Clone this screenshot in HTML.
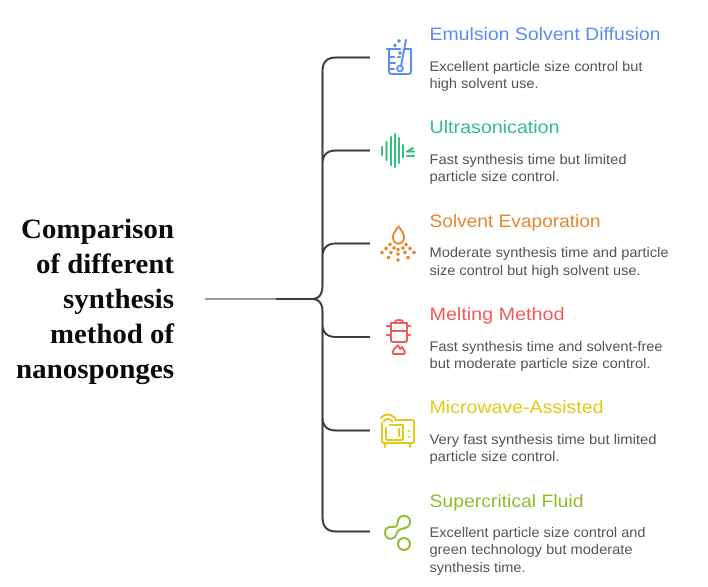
<!DOCTYPE html>
<html>
<head>
<meta charset="utf-8">
<style>
html,body{margin:0;padding:0;background:#fff;width:708px;height:587px;overflow:hidden}
svg{display:block;text-rendering:geometricPrecision}
.h{font-family:"Liberation Sans",sans-serif;font-size:18px}
.d{font-family:"Liberation Sans",sans-serif;font-size:14px;fill:#555}
.t{font-family:"Liberation Serif",serif;font-size:28px;font-weight:bold;fill:#0a0a0a;text-anchor:end}
.i{fill:none;stroke-width:2;stroke-linecap:round;stroke-linejoin:round}
</style>
</head>
<body>
<svg width="708" height="587" viewBox="0 0 708 587" xmlns="http://www.w3.org/2000/svg">
<rect width="708" height="587" fill="#fff"/>

<!-- title -->
<text class="t" x="174" y="238" textLength="153" lengthAdjust="spacingAndGlyphs">Comparison</text>
<text class="t" x="174" y="273" textLength="138" lengthAdjust="spacingAndGlyphs">of different</text>
<text class="t" x="174" y="308" textLength="111" lengthAdjust="spacingAndGlyphs">synthesis</text>
<text class="t" x="174" y="343" textLength="124" lengthAdjust="spacingAndGlyphs">method of</text>
<text class="t" x="174" y="378" textLength="158" lengthAdjust="spacingAndGlyphs">nanosponges</text>

<!-- connectors -->
<g fill="none" stroke-width="2">
<path d="M205 299H276" stroke="#999"/>
<g stroke="#3c3c3c">
<path d="M276 299H314"/>
<path d="M370 57.500H336Q322.500 57.500 322.500 71V285Q322.500 299 312 299"/>
<path d="M370 150.500H336Q322.500 150.500 322.500 164V285"/>
<path d="M370 243.500H336Q322.500 243.500 322.500 257"/>
<path d="M312 299Q322.500 299 322.500 312V517Q322.500 531.500 336 531.500H370"/>
<path d="M370 337H336Q322.500 337 322.500 324"/>
<path d="M370 430.500H336Q322.500 430.500 322.500 417"/>
</g>
</g>

<!-- icon 1: beaker -->
<g class="i" stroke="#5b8def">
<path d="M387 49H389V71Q389 74 392 74H408Q411 74 411 71V49H404"/>
<path d="M389 49H400"/>
<path d="M389 57H394M389 63H395M389 69H394M398 57H400"/>
<path d="M406 40L401 66"/>
<circle cx="400" cy="68.500" r="2.800"/>
<circle cx="395" cy="45.500" r="0.700"/>
<circle cx="399" cy="41" r="0.700"/>
<circle cx="400" cy="53" r="0.700"/>
</g>

<!-- icon 2: sound -->
<g class="i" stroke="#2ec27e">
<path d="M382 147V155M386.500 142V160M391 137V165M395 134V167M399 138V163M403 145V157"/>
<path d="M413 148L407 151.500H414M407 156H414"/>
</g>

<!-- icon 3: droplet -->
<g stroke="#e8842c" fill="none" stroke-width="2">
<path d="M398.500 226.500Q392.500 234 393 238Q394 243.500 398.500 243.500Q403 243.500 404 238Q404.500 234 398.500 226.500Z"/>
</g>
<g fill="#e8842c">
<circle cx="390" cy="244.500" r="1.700"/><circle cx="406" cy="244.500" r="1.700"/>
<circle cx="386" cy="248.500" r="1.700"/><circle cx="394" cy="248" r="1.700"/><circle cx="398" cy="249.500" r="1.700"/><circle cx="403" cy="248" r="1.700"/><circle cx="410" cy="248.500" r="1.700"/>
<circle cx="382" cy="252.500" r="1.700"/><circle cx="391" cy="252.500" r="1.700"/><circle cx="398" cy="254" r="1.700"/><circle cx="405" cy="252.500" r="1.700"/><circle cx="414" cy="252.500" r="1.700"/>
<circle cx="388.500" cy="257.500" r="1.700"/><circle cx="398" cy="260" r="1.700"/><circle cx="408" cy="257.500" r="1.700"/>
</g>

<!-- icon 4: pot -->
<g class="i" stroke="#ef5b5b">
<path d="M391 323V340Q391 342 393 342H405Q407 342 407 340V323"/>
<path d="M391 323H407M391 331H407"/>
<path d="M387 326H391M407 326H410M387 335H391M407 335H410"/>
<path d="M395 323Q395 320 399 320Q403 320 403 323"/>
<path d="M394 354H403Q405.500 354 404.500 351L402 347L400 349L398 345.500L395 348L393 351Q392.500 354 394 354Z"/>
</g>

<!-- icon 5: microwave -->
<g class="i" stroke="#e3c915">
<path d="M382 423V441Q382 443 384 443H412Q414 443 414 441V422Q414 420 412 420H395"/>
<path d="M390 425H403V438Q403 440 401 440H388Q386 440 386 438V428"/>
<path d="M399 429V436"/>
<path d="M409 431V431.100M409 437V437.100"/>
<path d="M385 444V447M410 444V447"/>
<path d="M381 418Q387 411 395 418M384 421Q387.500 417 392 421"/>
</g>

<!-- icon 6: nodes -->
<g class="i" stroke="#8fbc2c">
<path d="M395 527Q397.500 526 398 521C399 516 404 515 407 516.500C411 518.500 411 524 408 526.500Q405 528.500 401 529Q397.500 530 396.500 534C395 539 389 540 386.500 537C384 534 385 529 388 527.500Q391 526.500 395 527Z"/>
<circle cx="404" cy="544" r="6"/>
</g>

<!-- text blocks -->
<text class="h" x="429.500" y="40" fill="#5b8def" textLength="231" lengthAdjust="spacingAndGlyphs">Emulsion Solvent Diffusion</text>
<text class="d" x="429.500" y="71" textLength="213" lengthAdjust="spacingAndGlyphs">Excellent particle size control but</text>
<text class="d" x="429.500" y="88" textLength="109" lengthAdjust="spacingAndGlyphs">high solvent use.</text>

<text class="h" x="429.500" y="133" fill="#2ec27e" textLength="130" lengthAdjust="spacingAndGlyphs">Ultrasonication</text>
<text class="d" x="429.500" y="164" textLength="197" lengthAdjust="spacingAndGlyphs">Fast synthesis time but limited</text>
<text class="d" x="429.500" y="181" textLength="130" lengthAdjust="spacingAndGlyphs">particle size control.</text>

<text class="h" x="429.500" y="227" fill="#e8842c" textLength="171" lengthAdjust="spacingAndGlyphs">Solvent Evaporation</text>
<text class="d" x="429.500" y="257" textLength="239" lengthAdjust="spacingAndGlyphs">Moderate synthesis time and particle</text>
<text class="d" x="429.500" y="275" textLength="211" lengthAdjust="spacingAndGlyphs">size control but high solvent use.</text>

<text class="h" x="429.500" y="320" fill="#ef5b5b" textLength="135" lengthAdjust="spacingAndGlyphs">Melting Method</text>
<text class="d" x="429.500" y="351" textLength="233" lengthAdjust="spacingAndGlyphs">Fast synthesis time and solvent-free</text>
<text class="d" x="429.500" y="368" textLength="221" lengthAdjust="spacingAndGlyphs">but moderate particle size control.</text>

<text class="h" x="429.500" y="413" fill="#e3c915" textLength="174" lengthAdjust="spacingAndGlyphs">Microwave-Assisted</text>
<text class="d" x="429.500" y="444" textLength="227" lengthAdjust="spacingAndGlyphs">Very fast synthesis time but limited</text>
<text class="d" x="429.500" y="461" textLength="130" lengthAdjust="spacingAndGlyphs">particle size control.</text>

<text class="h" x="429.500" y="507" fill="#8fbc2c" textLength="154" lengthAdjust="spacingAndGlyphs">Supercritical Fluid</text>
<text class="d" x="429.500" y="537" textLength="216" lengthAdjust="spacingAndGlyphs">Excellent particle size control and</text>
<text class="d" x="429.500" y="554" textLength="203" lengthAdjust="spacingAndGlyphs">green technology but moderate</text>
<text class="d" x="429.500" y="572" textLength="96" lengthAdjust="spacingAndGlyphs">synthesis time.</text>
</svg>
</body>
</html>
